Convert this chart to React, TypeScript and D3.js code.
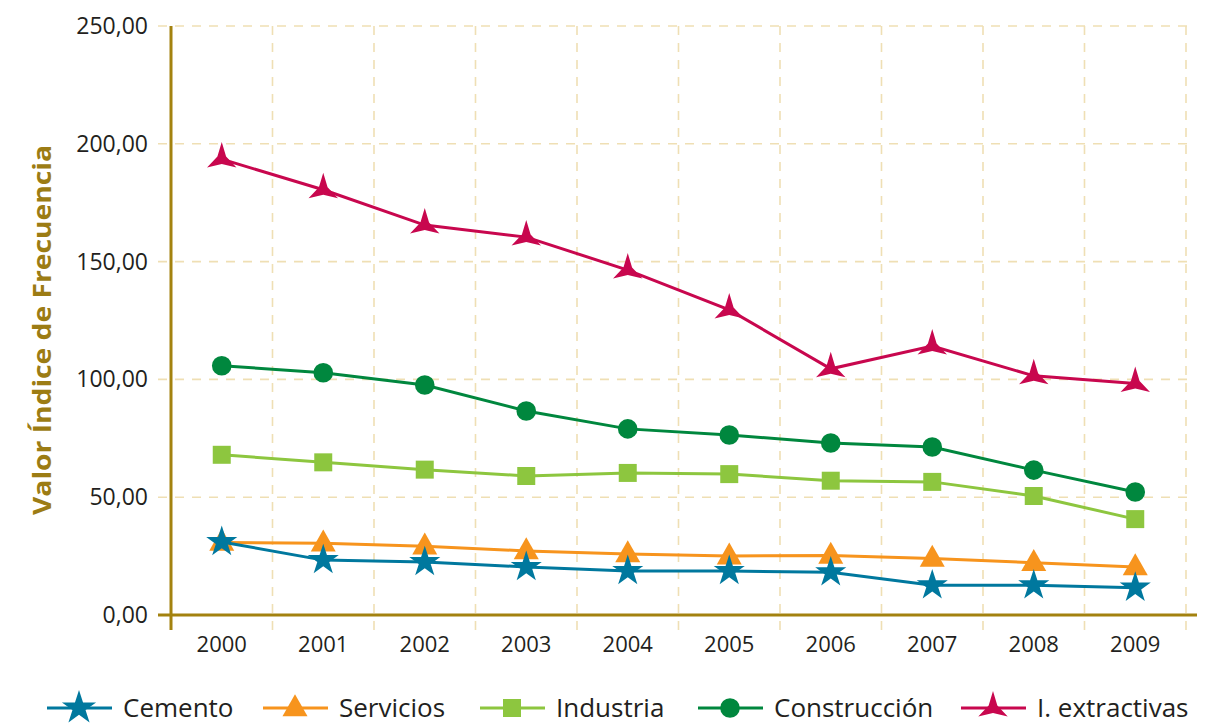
import React from "react";
import * as d3 from "d3";

const years = ["2000", "2001", "2002", "2003", "2004", "2005", "2006", "2007", "2008", "2009"];
const cemento = [31, 23.3, 22.5, 20.4, 18.7, 18.7, 18.1, 12.6, 12.6, 11.6];
const servicios = [30.8, 30.5, 29.2, 27.2, 25.9, 25, 25.3, 24, 22.2, 20.4];
const industria = [68, 64.8, 61.7, 59, 60.3, 59.8, 57, 56.5, 50.5, 40.7];
const construccion = [105.8, 102.8, 97.6, 86.6, 79, 76.4, 73, 71.3, 61.5, 52.2];
const extractivas = [193.5, 180.5, 165.5, 160.4, 146.4, 129.5, 104.5, 114.2, 101.5, 98.3];
const yTicks = [0, 50, 100, 150, 200, 250];
const seriesNames = ["Cemento", "Servicios", "Industria", "Construcción", "I. extractivas"];

const colors = ["#00789e", "#f7941d", "#8dc63f", "#00873e", "#c8074e"];
const markers = ["star", "triangle", "square", "circle", "tristar"];
const values = [cemento, servicios, industria, construccion, extractivas];

const GOLD = "#a3820f";
const GRID = "#efdfb4";
const FONT = "'Open Sans', sans-serif";

function markerPath(type: string, s = 1): string {
  if (type === "star") {
    return d3.symbol(d3.symbolStar, 300 * s * s)() as string;
  }
  if (type === "triangle") {
    const w = 12.5 * s;
    const h = 22 * s;
    return `M0,${-h * 0.62}L${w},${h * 0.38}L${-w},${h * 0.38}Z`;
  }
  if (type === "square") {
    const a = 9 * s;
    return `M${-a},${-a}H${a}V${a}H${-a}Z`;
  }
  if (type === "circle") {
    return d3.symbol(d3.symbolCircle, Math.PI * 9.8 * 9.8 * s * s)() as string;
  }
  // three-pointed star
  const R = 17 * s;
  const r = 5 * s;
  const pts: string[] = [];
  for (let i = 0; i < 6; i++) {
    const ang = (-90 + i * 60) * (Math.PI / 180);
    const rad = i % 2 === 0 ? R : r;
    pts.push(`${(Math.cos(ang) * rad).toFixed(2)},${(Math.sin(ang) * rad).toFixed(2)}`);
  }
  return "M" + pts.join("L") + "Z";
}

export default function App() {
  const x = d3.scaleBand<string>().domain(years).range([171, 1186]).padding(0);
  const y = d3.scaleLinear().domain([0, 250]).range([615, 26]);
  const cx = (yr: string) => (x(yr) as number) + x.bandwidth() / 2;

  const line = d3
    .line<number>()
    .x((_, i) => cx(years[i]))
    .y((v) => y(v));

  const legendX = [47, 263, 480, 698, 961];

  return (
    <svg
      width={1229}
      height={725}
      style={{ position: "absolute", left: 0, top: 0, display: "block", background: "#fff" }}
    >
      {/* grid */}
      {yTicks.filter((t) => t > 0).map((t) => (
        <line key={"h" + t} x1={158} x2={1195} y1={y(t)} y2={y(t)} stroke={GRID} strokeWidth={1.6} strokeDasharray="9,8" />
      ))}
      {years.map((yr) => (
        <line
          key={"v" + yr}
          x1={(x(yr) as number) + x.bandwidth()}
          x2={(x(yr) as number) + x.bandwidth()}
          y1={y(250)}
          y2={630}
          stroke={GRID}
          strokeWidth={1.6}
          strokeDasharray="9,8"
        />
      ))}
      {/* axes */}
      <line x1={158} x2={1197} y1={y(0)} y2={y(0)} stroke={GOLD} strokeWidth={3} />
      <line x1={171} x2={171} y1={y(250)} y2={630} stroke={GOLD} strokeWidth={3} />
      {yTicks.map((t) => (
        <text
          key={"yt" + t}
          x={148}
          y={y(t)}
          dy="0.35em"
          textAnchor="end"
          fontFamily={FONT}
          fontSize={23}
          fill="#231f20"
        >
          {d3.format(".2f")(t).replace(".", ",")}
        </text>
      ))}
      {years.map((yr) => (
        <text key={"xt" + yr} x={cx(yr)} y={652} textAnchor="middle" fontFamily={FONT} fontSize={22} fill="#231f20">
          {yr}
        </text>
      ))}
      <text
        transform={`translate(51,330) rotate(-90)`}
        textAnchor="middle"
        fontFamily={FONT}
        fontWeight="bold"
        fontSize={25}
        textLength={370}
        lengthAdjust="spacingAndGlyphs"
        fill="#9c7c14"
      >
        Valor Índice de Frecuencia
      </text>
      {/* series */}
      {[4, 3, 2, 1, 0].map((si) => (
        <g key={"s" + si}>
          <path d={line(values[si]) as string} fill="none" stroke={colors[si]} strokeWidth={3} />
          {values[si].map((v, i) => (
            <path
              key={i}
              d={markerPath(markers[si])}
              transform={`translate(${cx(years[i])},${y(v)})`}
              fill={colors[si]}
            />
          ))}
        </g>
      ))}
      {/* legend */}
      {seriesNames.map((nm, si) => (
        <g key={"l" + si} transform={`translate(${legendX[si]},708)`}>
          <line x1={0} x2={65} y1={0} y2={0} stroke={colors[si]} strokeWidth={3} />
          <path d={markerPath(markers[si], si === 0 ? 1.1 : 1)} transform="translate(32,0)" fill={colors[si]} />
          <text x={76} y={0} dy="0.35em" fontFamily={FONT} fontSize={26} fill="#231f20">
            {nm}
          </text>
        </g>
      ))}
    </svg>
  );
}
